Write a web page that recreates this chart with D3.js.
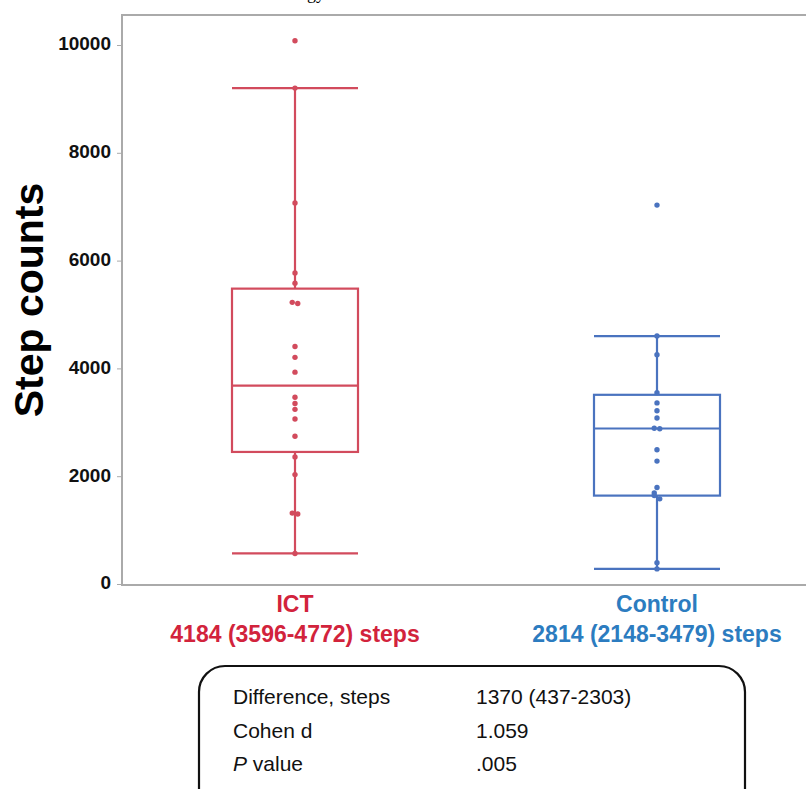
<!DOCTYPE html>
<html>
<head>
<meta charset="utf-8">
<script src="https://cdn.jsdelivr.net/npm/d3@7"></script>
<style>
  body { margin: 0; background: #fff; }
  svg { display: block; }
</style>
</head>
<body>
<div id="drawArea"></div>
<script>
// data
var groups = ["ICT", "Control"];
var groupLabels = ["4184 (3596-4772) steps", "2814 (2148-3479) steps"];
var ictSteps = [10080, 9200, 7070, 5770, 5580, 5225, 5205, 4405, 4205, 3930, 3465, 3350, 3240, 3060, 2740, 2355, 2030, 1315, 1300, 565];
var controlSteps = [7030, 4600, 4255, 3550, 3360, 3215, 3080, 2890, 2880, 2490, 2280, 1790, 1690, 1640, 1580, 395, 280];
// [lower whisker, q1, median, q3, upper whisker]
var ictBox = [570, 2450, 3680, 5480, 9200];
var controlBox = [280, 1640, 2885, 3510, 4600];
var yTicks = [0, 2000, 4000, 6000, 8000, 10000];
var tableRows = ["Difference, steps", "Cohen d", "P value"];
var tableValues = ["1370 (437-2303)", "1.059", ".005"];

var W = 806, H = 789;
var frameLeft = 122, frameTop = 15, frameBottom = 585;
var lineCol = ["#d24b5d", "#4a73bf"];
var textCol = ["#d2233c", "#2c7cc0"];
var sans = "'Liberation Sans', Arial, sans-serif";

var svg = d3.select("#drawArea").append("svg")
  .attr("width", W).attr("height", H);

var y = d3.scaleLinear().domain([0, 10000]).range([584, 45]);
var x = d3.scalePoint().domain(groups).range([295, 657]);
var halfBox = 63;

// title cut off at the very top
svg.append("text")
  .attr("x", 325).attr("y", -1)
  .attr("text-anchor", "end")
  .attr("font-family", "'Liberation Serif', serif")
  .attr("font-size", 18)
  .text("Technology");

// frame
svg.append("path")
  .attr("d", "M" + (W + 5) + "," + frameTop + "H" + frameLeft + "V" + frameBottom + "H" + (W + 5))
  .attr("fill", "none").attr("stroke", "#aaa").attr("stroke-width", 2);

// y axis
var yAxis = d3.axisLeft(y).tickValues(yTicks).tickSize(5).tickPadding(6).tickFormat(d3.format("d"));
var gy = svg.append("g").attr("transform", "translate(" + frameLeft + ",0)").call(yAxis);
gy.select(".domain").remove();
gy.selectAll(".tick line").attr("stroke", "#aaa");
gy.selectAll(".tick text")
  .attr("font-family", sans).attr("font-weight", "bold")
  .attr("font-size", 19).attr("fill", "#111").attr("dy", "0.26em");

svg.append("text")
  .attr("transform", "translate(43,300) rotate(-90)")
  .attr("text-anchor", "middle")
  .attr("font-family", sans)
  .attr("font-weight", "bold").attr("font-size", 41)
  .text("Step counts");

// boxes
var boxes = [ictBox, controlBox];
groups.forEach(function(gname, i) {
  var b = boxes[i], cx = x(gname), c = lineCol[i];
  var g = svg.append("g").attr("stroke", c).attr("stroke-width", 2.2).attr("fill", "none");
  g.append("line").attr("x1", cx).attr("x2", cx).attr("y1", y(b[0])).attr("y2", y(b[1]));
  g.append("line").attr("x1", cx).attr("x2", cx).attr("y1", y(b[3])).attr("y2", y(b[4]));
  g.append("line").attr("x1", cx - halfBox).attr("x2", cx + halfBox).attr("y1", y(b[0])).attr("y2", y(b[0]));
  g.append("line").attr("x1", cx - halfBox).attr("x2", cx + halfBox).attr("y1", y(b[4])).attr("y2", y(b[4]));
  g.append("rect").attr("x", cx - halfBox).attr("width", 2 * halfBox)
    .attr("y", y(b[3])).attr("height", y(b[1]) - y(b[3]));
  g.append("line").attr("x1", cx - halfBox).attr("x2", cx + halfBox).attr("y1", y(b[2])).attr("y2", y(b[2]));
});

// dots, nudged sideways when they overlap
function dodge(vals) {
  var placed = [];
  return vals.map(function(v) {
    var py = y(v), off = 0;
    var near = placed.filter(function(p) { return Math.abs(p.py - py) < 4; });
    if (near.length) { near[0].shift = -2.75; off = 2.75; }
    var p = { py: py, shift: off };
    placed.push(p);
    return p;
  });
}
[ictSteps, controlSteps].forEach(function(vals, i) {
  var cx = x(groups[i]);
  svg.append("g").selectAll("circle")
    .data(dodge(vals))
    .join("circle")
      .attr("cx", function(d) { return cx + d.shift; })
      .attr("cy", function(d) { return d.py; })
      .attr("r", 2.7)
      .attr("fill", lineCol[i]);
});

// group labels
groups.forEach(function(gname, i) {
  svg.append("text")
    .attr("x", x(gname)).attr("y", 612)
    .attr("text-anchor", "middle")
    .attr("font-family", sans).attr("font-weight", "bold")
    .attr("font-size", 23).attr("fill", textCol[i])
    .text(gname);
  svg.append("text")
    .attr("x", x(gname)).attr("y", 642)
    .attr("text-anchor", "middle")
    .attr("font-family", sans).attr("font-weight", "bold")
    .attr("font-size", 23).attr("fill", textCol[i])
    .text(groupLabels[i]);
});

// stats table
svg.append("rect")
  .attr("x", 199).attr("y", 666).attr("width", 546).attr("height", 150)
  .attr("rx", 26).attr("ry", 26)
  .attr("fill", "none").attr("stroke", "#111").attr("stroke-width", 2.2);

tableRows.forEach(function(r, i) {
  var t = svg.append("text")
    .attr("x", 233).attr("y", 704 + i * 33.5)
    .attr("font-family", sans).attr("font-size", 21).attr("fill", "#111");
  if (r.indexOf("P ") === 0) {
    t.append("tspan").attr("font-style", "italic").text("P");
    t.append("tspan").text(" value");
  } else {
    t.text(r);
  }
  svg.append("text")
    .attr("x", 476).attr("y", 704 + i * 33.5)
    .attr("font-family", sans).attr("font-size", 21).attr("fill", "#111")
    .text(tableValues[i]);
});
</script>
</body>
</html>
